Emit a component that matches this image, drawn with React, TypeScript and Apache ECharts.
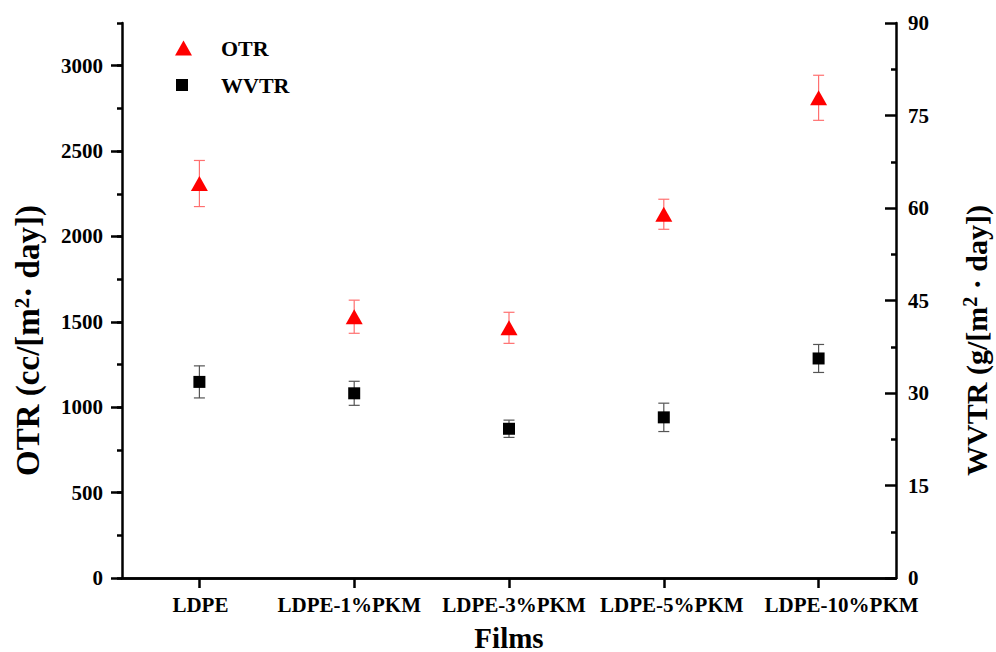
import React, { useEffect, useRef } from "react";
import * as echarts from "echarts";

const categories = ["LDPE", "LDPE-1%PKM", "LDPE-3%PKM", "LDPE-5%PKM", "LDPE-10%PKM"];
const otr = [2310, 1530, 1465, 2130, 2812];
const otrErr = [135, 97, 91, 88, 132];
const wvtr = [31.8, 29.95, 24.2, 26.05, 35.6];
const wvtrErr = [2.6, 1.95, 1.4, 2.3, 2.27];
const otrTickValues = [0, 500, 1000, 1500, 2000, 2500, 3000];

// horizontal nudges of the category labels (layout only)
const labelNudge = [2, -10, 10, 16, 46];

const FONT = "'Liberation Serif', 'Times New Roman', serif";

const errorBar = (color: string) => (params: any, api: any) => {
  const x = api.value(0);
  const pLo = api.coord([x, api.value(1)]);
  const pHi = api.coord([x, api.value(2)]);
  const half = 5.5;
  const style = { stroke: color, lineWidth: 1.2 };
  return {
    type: "group",
    children: [
      { type: "line", shape: { x1: pLo[0], y1: pLo[1], x2: pHi[0], y2: pHi[1] }, style },
      { type: "line", shape: { x1: pHi[0] - half, y1: pHi[1], x2: pHi[0] + half, y2: pHi[1] }, style },
      { type: "line", shape: { x1: pLo[0] - half, y1: pLo[1], x2: pLo[0] + half, y2: pLo[1] }, style },
    ],
  };
};

export default function App() {
  const ref = useRef<HTMLDivElement>(null);
  useEffect(() => {
    if (!ref.current) return;
    const chart = echarts.init(ref.current, undefined, { renderer: "svg" });
    const axisLineStyle = () => ({ color: "#000", width: 2.5, opacity: 1 });
    const tickStyle = () => ({ color: "#000", width: 2.5, opacity: 1 });
    const labelStyle = { fontFamily: FONT, fontWeight: "bold" as const, fontSize: 21, color: "#000" };
    const nameStyle = (size: number) => ({
      fontFamily: FONT,
      fontWeight: "bold" as const,
      fontSize: size,
      color: "#000",
      padding: [0, 80, 0, 0],
      rich: {
        sup: {
          fontFamily: FONT,
          fontWeight: "bold" as const,
          fontSize: Math.round(size * 0.65),
          color: "#000",
          verticalAlign: "top" as const,
          padding: [0, 0, 12, 0],
        },
      },
    });
    const plain = (v: number) => String(v);
    const catData = categories.map((c, i) => ({
      value: c,
      textStyle: {
        padding: labelNudge[i] >= 0 ? [0, 0, 0, labelNudge[i]] : [0, -labelNudge[i], 0, 0],
      },
    }));
    chart.setOption({
      animation: false,
      backgroundColor: "#fff",
      grid: {
        left: 122,
        right: 100,
        top: 23,
        bottom: 74,
        show: false,
        containLabel: false,
        outerBoundsMode: "none",
      },
      legend: [
        {
          data: [{ name: "OTR", icon: "triangle" }],
          left: 175,
          top: 37,
          padding: 0,
          itemWidth: 17,
          itemHeight: 15,
          textStyle: { ...labelStyle, fontSize: 22, padding: [0, 0, 0, 24] },
          selectedMode: false,
        },
        {
          data: [{ name: "WVTR", icon: "rect" }],
          left: 176,
          top: 74,
          padding: 0,
          itemWidth: 12,
          itemHeight: 12,
          textStyle: { ...labelStyle, fontSize: 22, padding: [0, 0, 0, 28] },
          selectedMode: false,
        },
      ],
      xAxis: [
        {
          type: "category",
          data: catData,
          boundaryGap: true,
          name: "Films",
          nameLocation: "middle",
          nameGap: 45,
          nameTextStyle: { fontFamily: FONT, fontWeight: "bold", fontSize: 29, color: "#000" },
          axisLine: { show: true, lineStyle: axisLineStyle() },
          axisTick: { show: true, alignWithLabel: true, length: 10, lineStyle: tickStyle() },
          axisLabel: { ...labelStyle, margin: 16, interval: 0 },
          splitLine: { show: false },
        },
        {
          type: "category",
          data: categories,
          position: "top",
          axisLine: { show: true, lineStyle: axisLineStyle() },
          axisTick: { show: false },
          axisLabel: { show: false },
          splitLine: { show: false },
        },
      ],
      yAxis: [
        {
          type: "value",
          position: "left",
          min: 0,
          max: 3250,
          interval: 500,
          name: "OTR (cc/[m{sup|2}· day])",
          nameLocation: "middle",
          nameRotate: 90,
          nameGap: 78,
          nameTextStyle: nameStyle(33),
          axisLine: { show: true, lineStyle: axisLineStyle() },
          axisTick: { show: true, length: 11, customValues: otrTickValues, lineStyle: tickStyle() },
          axisLabel: { ...labelStyle, margin: 19, customValues: otrTickValues, formatter: plain },
          splitLine: { show: false },
        },
        {
          type: "value",
          position: "right",
          min: 0,
          max: 90,
          interval: 15,
          name: "WVTR (g/[m{sup|2} · day])",
          nameLocation: "middle",
          nameRotate: 90,
          nameGap: 64,
          nameTextStyle: nameStyle(30),
          axisLine: { show: true, lineStyle: axisLineStyle() },
          axisTick: { show: true, inside: true, length: 11, lineStyle: tickStyle() },
          minorTick: { show: true, splitNumber: 2, length: 5, lineStyle: tickStyle() },
          axisLabel: { ...labelStyle, margin: 12, formatter: plain },
          splitLine: { show: false },
        },
        {
          type: "value",
          position: "left",
          min: 0,
          max: 3250,
          interval: 250,
          axisLine: { show: false },
          axisTick: { show: true, length: 5, lineStyle: tickStyle() },
          axisLabel: { show: false },
          splitLine: { show: false },
        },
      ],
      series: [
        {
          name: "OTR err",
          type: "custom",
          yAxisIndex: 0,
          renderItem: errorBar("#ff7070"),
          encode: { x: 0, y: [1, 2] },
          data: categories.map((_, i) => [i, otr[i] - otrErr[i], otr[i] + otrErr[i]]),
          z: 1,
          silent: true,
        },
        {
          name: "WVTR err",
          type: "custom",
          yAxisIndex: 1,
          renderItem: errorBar("#555555"),
          encode: { x: 0, y: [1, 2] },
          data: categories.map((_, i) => [i, wvtr[i] - wvtrErr[i], wvtr[i] + wvtrErr[i]]),
          z: 1,
          silent: true,
        },
        {
          name: "OTR",
          type: "scatter",
          yAxisIndex: 0,
          symbol: "triangle",
          symbolSize: [17, 15],
          itemStyle: { color: "#ff0000", opacity: 1 },
          data: otr,
          z: 3,
        },
        {
          name: "WVTR",
          type: "scatter",
          yAxisIndex: 1,
          symbol: "rect",
          symbolSize: 12,
          itemStyle: { color: "#000000", opacity: 1 },
          data: wvtr,
          z: 3,
        },
      ],
    });
    return () => chart.dispose();
  }, []);
  return (
    <div
      ref={ref}
      style={{ position: "fixed", left: 0, top: 0, width: 996, height: 652, background: "#fff" }}
    />
  );
}
